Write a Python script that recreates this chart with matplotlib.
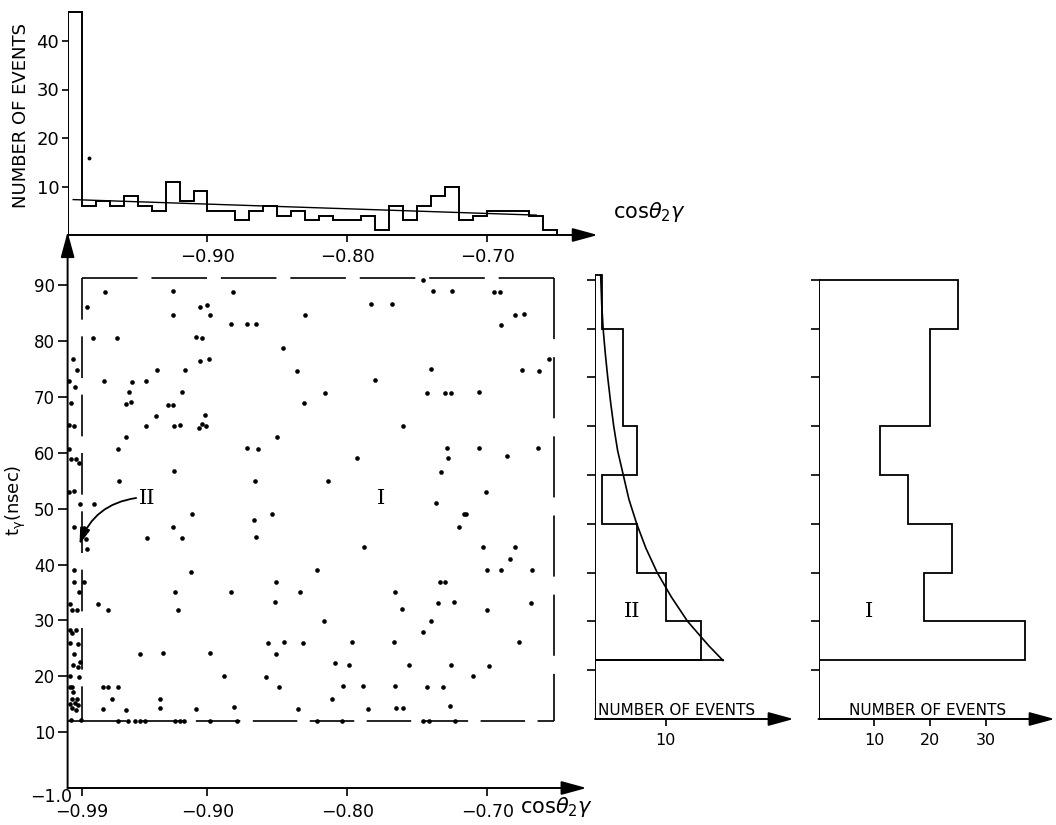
import numpy as np
import matplotlib.pyplot as plt

plt.rcParams['font.family'] = ['DejaVu Sans']
plt.rcParams['lines.scale_dashes'] = False

# ---- data ----
# top histogram: events per 0.01 bin of cos(theta_2gamma), -1.00 .. -0.65
cos_edges = np.linspace(-1.0, -0.65, 36)
cos_counts = [46, 6, 7, 6, 8, 6, 5, 11, 7, 9, 5, 5, 3, 5, 6, 4, 5, 3, 4, 3,
              3, 4, 1, 6, 3, 6, 8, 10, 3, 4, 5, 5, 5, 4, 1]
cos_fit_x = [-0.996, -0.665]
cos_fit_n = [7.3, 4.1]

# scatter: cos(theta_2gamma) vs t_gamma (nsec)
cos_strip = [-0.9964, -0.9931, -0.9988, -0.9949, -0.9978, -0.999, -0.9952, -0.999,
             -0.9974, -0.994, -0.9919, -0.999, -0.9954, -0.9909, -0.9954, -0.9956,
             -0.9956, -0.9921, -0.9985, -0.9966, -0.9933, -0.9985, -0.9966, -0.9938,
             -0.9985, -0.9924, -0.9952, -0.9909, -0.9959, -0.9926, -0.9985, -0.9919,
             -0.9985, -0.9966, -0.9961, -0.9971, -0.9931, -0.9983, -0.9947, -0.9924,
             -0.9966, -0.994, -0.9976, -0.9904]
t_strip = [76.7, 74.8, 72.8, 71.7, 68.9, 65.0, 64.8, 60.7,
           58.9, 58.9, 58.1, 53.0, 53.1, 50.8, 46.8, 39.1,
           36.9, 35.0, 33.0, 31.9, 31.9, 28.3, 27.7, 28.2,
           25.9, 25.8, 24.0, 22.6, 22.0, 21.7, 20.0, 19.9,
           18.1, 18.0, 17.2, 15.9, 15.9, 15.0, 15.2, 14.9,
           14.3, 14.0, 12.1, 12.2]

cos_main = [-0.986, -0.973, -0.982, -0.965, -0.974, -0.981, -0.964, -0.963, -0.958, -0.958,
            -0.955, -0.956, -0.954, -0.944, -0.944, -0.937, -0.936, -0.928, -0.925, -0.924,
            -0.920, -0.918, -0.916, -0.925, -0.925, -0.924, -0.908, -0.904, -0.905, -0.899,
            -0.905, -0.900, -0.898, -0.906, -0.904, -0.901, -0.902, -0.882, -0.883, -0.872,
            -0.865, -0.872, -0.864, -0.866, -0.850, -0.846, -0.836, -0.831, -0.830, -0.816,
            -0.814, -0.783, -0.768, -0.746, -0.739, -0.725, -0.695, -0.691, -0.680, -0.674,
            -0.690, -0.656, -0.675, -0.663, -0.740, -0.780, -0.743, -0.730, -0.726, -0.706,
            -0.760, -0.729, -0.706, -0.664, -0.728, -0.686, -0.793, -0.733, -0.701, -0.737,
            -0.717, -0.715, -0.720,
            -0.988, -0.987, -0.986, -0.988, -0.911, -0.925, -0.918, -0.943, -0.912, -0.923,
            -0.921, -0.978, -0.971, -0.948, -0.932, -0.898, -0.888, -0.883, -0.881, -0.908,
            -0.934, -0.934, -0.975, -0.971, -0.964, -0.968, -0.975, -0.958,
            -0.964, -0.957, -0.952, -0.948, -0.945, -0.923, -0.920, -0.917, -0.898, -0.879,
            -0.822, -0.804, -0.746, -0.742, -0.723,
            -0.867, -0.854, -0.865, -0.858, -0.851, -0.852, -0.857, -0.851, -0.849, -0.845,
            -0.835, -0.834, -0.832, -0.822, -0.817,
            -0.788, -0.703, -0.680, -0.684, -0.700, -0.690, -0.668, -0.734, -0.730, -0.766,
            -0.761, -0.735, -0.724, -0.700, -0.669, -0.740, -0.746, -0.797, -0.767, -0.677,
            -0.809, -0.799, -0.756, -0.726, -0.699, -0.710, -0.803, -0.789, -0.766, -0.743,
            -0.732, -0.811, -0.785, -0.765, -0.760, -0.727]
t_main = [86.1, 88.8, 80.5, 80.5, 72.9, 50.8, 60.7, 54.9, 62.9, 68.8,
          69.0, 70.8, 72.6, 72.8, 64.8, 66.6, 74.8, 68.5, 68.5, 64.8,
          64.9, 70.8, 74.8, 89.0, 84.6, 56.8, 80.7, 80.6, 76.5, 76.7,
          86.1, 86.5, 84.7, 64.5, 65.1, 64.7, 66.7, 88.8, 83.0, 83.0,
          83.0, 60.9, 60.7, 54.9, 62.9, 78.8, 74.6, 68.9, 84.6, 70.7,
          55.0, 86.6, 86.7, 90.9, 88.9, 88.9, 88.8, 88.8, 84.6, 84.8,
          82.8, 76.7, 74.8, 74.7, 74.9, 73.0, 70.7, 70.7, 70.7, 70.8,
          64.8, 60.8, 60.9, 60.9, 59.1, 59.4, 59.1, 56.5, 52.9, 51.0,
          49.0, 49.0, 46.8,
          46.6, 44.6, 42.8, 36.8, 49.0, 46.8, 44.8, 44.8, 38.7, 35.0,
          31.9, 33.0, 31.9, 24.0, 24.1, 24.2, 20.0, 35.0, 14.5, 14.2,
          16.0, 14.3, 18.1, 18.1, 18.0, 15.9, 14.1, 14.0,
          12.0, 12.0, 12.0, 12.0, 12.0, 12.0, 12.0, 12.0, 12.0, 12.0,
          12.0, 12.0, 12.0, 12.0, 12.0,
          48.0, 49.0, 44.9, 19.9, 36.9, 33.2, 26.0, 24.0, 18.1, 26.2,
          14.1, 35.0, 25.9, 39.1, 29.9,
          43.1, 43.1, 43.1, 40.9, 39.0, 39.1, 39.0, 36.9, 36.9, 35.1,
          32.0, 33.1, 33.2, 31.9, 33.1, 29.9, 28.0, 26.1, 26.1, 26.1,
          22.4, 22.0, 22.0, 22.0, 21.9, 20.0, 18.2, 18.2, 18.2, 18.1,
          18.1, 15.9, 14.2, 14.3, 14.3, 14.6]

# region boundaries (dashed box)
box_cos = [-0.99, -0.652]
box_t = [12.0, 91.2]

# side histograms: t_gamma bins
t_edges_II = [12, 20, 30, 40, 50, 60, 80, 91]
counts_II = [15, 10, 6, 1, 6, 4, 1]
t_edges_I = [12, 20, 30, 40, 50, 60, 80, 90]
counts_I = [37, 19, 24, 16, 11, 20, 25]

# fitted decay curve drawn on region II histogram
fit_t = [12, 15, 20, 25, 30, 35, 40, 45, 50, 55, 60, 65, 70, 75, 80, 85, 91]
fit_n = [18.1, 16.1, 13.1, 10.8, 8.8, 7.2, 5.9, 4.8, 4.0, 3.2, 2.65, 2.2, 1.8,
         1.45, 1.15, 0.95, 0.8]

# ---- layout ----
W, H = 1056, 825
fig = plt.figure(figsize=(W / 100, H / 100), dpi=100)


def px_axes(x0, y0, x1, y1):
    # pixel box with origin top-left
    a = fig.add_axes([x0 / W, 1 - y1 / H, (x1 - x0) / W, (y1 - y0) / H])
    for s in a.spines.values():
        s.set_visible(False)
    a.patch.set_visible(False)
    return a


def ftext(x, y, s, **kw):
    fig.text(x / W, 1 - y / H, s, **kw)


def arrow(a, start, tip):
    a.annotate('', xy=tip, xytext=start, annotation_clip=False,
               arrowprops=dict(arrowstyle='-|>,head_length=1.1,head_width=0.3',
                               lw=1.4, color='k', shrinkA=0, shrinkB=0,
                               mutation_scale=14))


K = 'black'

# ---- top histogram ----
ax_top = px_axes(67.6, 2.2, 606.2, 235)
ax_top.set_xlim(-1.0, -0.615)
ax_top.set_ylim(0, 48)
ax_top.stairs(cos_counts, cos_edges, baseline=0, color=K, lw=1.4)
ax_top.plot(cos_fit_x, cos_fit_n, color=K, lw=1.0)
ax_top.plot([-0.985], [15.8], 'o', color=K, ms=1.8)
ax_top.plot([-1.0, -1.0], [0, 46], color=K, lw=1.4)
arrow(ax_top, (-1.0, 0), (-0.621, 0))
ax_top.set_yticks([10, 20, 30, 40])
ax_top.set_xticks([-0.9, -0.8, -0.7])
ax_top.set_xticklabels(['−0.90', '−0.80', '−0.70'])
ax_top.tick_params(axis='y', direction='out', length=4.5, width=1.2, pad=1.5, labelsize=13)
ax_top.tick_params(axis='x', direction='out', length=5, width=1.2, pad=4, labelsize=13)
ftext(21, 116, 'NUMBER OF EVENTS', rotation=90, fontsize=13, ha='center', va='center')
ftext(613, 212, r'cos$\theta_2\gamma$', fontsize=15, ha='left', va='center')

# ---- scatter ----
ax = px_axes(67.6, 229.25, 599.2, 788)
ax.set_xlim(-1.0, -0.62)
ax.set_ylim(0, 100)
arrow(ax, (-1.0, 0), (-1.0, 99.5))
arrow(ax, (-1.0, 0), (-0.629, 0))

ax.plot([box_cos[0], box_cos[1]], [box_t[1], box_t[1]], color=K, lw=1.2, dashes=(40, 10))
ax.plot([box_cos[0], box_cos[0]], [box_t[1], box_t[0]], color=K, lw=1.2, dashes=(30, 12))
ax.plot([box_cos[1], box_cos[1]], [box_t[1], box_t[0]], color=K, lw=1.2, dashes=(44, 13))
ax.plot([-1.0, box_cos[0]], [box_t[0], box_t[0]], color=K, lw=1.2)
ax.plot([box_cos[0], box_cos[1]], [box_t[0], box_t[0]], color=K, lw=1.2, dashes=(32, 9))

ax.scatter(cos_strip, t_strip, s=11, color=K, linewidths=0, clip_on=False)
ax.scatter(cos_main, t_main, s=11, color=K, linewidths=0, clip_on=False)

ax.text(-0.943, 51.9, 'II', family='DejaVu Serif', fontsize=15, ha='center', va='center')
ax.text(-0.776, 51.9, 'I', family='DejaVu Serif', fontsize=15, ha='center', va='center')
ax.annotate('', xy=(-0.9915, 43.6), xytext=(-0.951, 51.9), annotation_clip=False,
            arrowprops=dict(arrowstyle='-|>,head_length=0.7,head_width=0.22',
                            connectionstyle='arc3,rad=0.3', lw=1.3, color=K,
                            shrinkA=0, shrinkB=0, mutation_scale=14))

ax.set_yticks(range(10, 100, 10))
ax.set_xticks([-0.99, -0.9, -0.8, -0.7])
ax.set_xticklabels(['−0.99', '−0.90', '−0.80', '−0.70'])
ax.tick_params(axis='y', direction='out', length=7, width=1.2, pad=2, labelsize=12)
ax.tick_params(axis='x', direction='out', length=6, width=1.2, pad=5, labelsize=12.5)
ftext(72, 797, '−1.0', fontsize=12.5, ha='right', va='center')
ftext(520, 807, r'cos$\theta_2\gamma$', fontsize=15, ha='left', va='center')
ftext(16, 500, r'$\mathregular{t_{\gamma}}$(nsec)', rotation=90, fontsize=13,
      ha='center', va='center')

# ---- region II histogram ----
ax2 = px_axes(595, 255.4, 796.5, 719)
ax2.set_xlim(0, 28.5)
ax2.set_ylim(0, 95)
ax2.stairs(counts_II, t_edges_II, orientation='horizontal', baseline=0, color=K, lw=1.3)
ax2.plot([0, fit_n[0]], [12, 12], color=K, lw=1.3)
ax2.plot(fit_n, fit_t, color=K, lw=1.2)
ax2.plot([0, 0], [0, 91], color=K, lw=1.4)
arrow(ax2, (0, 0), (28.1, 0))
ax2.text(5.2, 22, 'II', family='DejaVu Serif', fontsize=15, ha='center', va='center')
ax2.text(0.4, 1.8, 'NUMBER OF EVENTS', fontsize=11, ha='left', va='center')
ax2.set_yticks(range(10, 100, 10))
ax2.set_yticklabels([])
ax2.set_xticks([10])
ax2.tick_params(axis='y', direction='out', length=6, width=1.2)
ax2.tick_params(axis='x', direction='out', length=5, width=1.2, pad=5, labelsize=11.5)

# ---- region I histogram ----
ax1 = px_axes(818.5, 255.4, 1055.8, 719)
ax1.set_xlim(0, 42.6)
ax1.set_ylim(0, 95)
ax1.stairs(counts_I, t_edges_I, orientation='horizontal', baseline=0, color=K, lw=1.3)
ax1.plot([0, 0], [0, 90], color=K, lw=1.4)
arrow(ax1, (0, 0), (42.4, 0))
ax1.text(9.1, 22, 'I', family='DejaVu Serif', fontsize=15, ha='center', va='center')
ax1.text(5.5, 1.8, 'NUMBER OF EVENTS', fontsize=11, ha='left', va='center')
ax1.set_yticks(range(10, 100, 10))
ax1.set_yticklabels([])
ax1.set_xticks([10, 20, 30])
ax1.tick_params(axis='y', direction='out', length=6, width=1.2)
ax1.tick_params(axis='x', direction='out', length=5, width=1.2, pad=5, labelsize=11.5)

fig.savefig('out.png', dpi=100, facecolor='white')
